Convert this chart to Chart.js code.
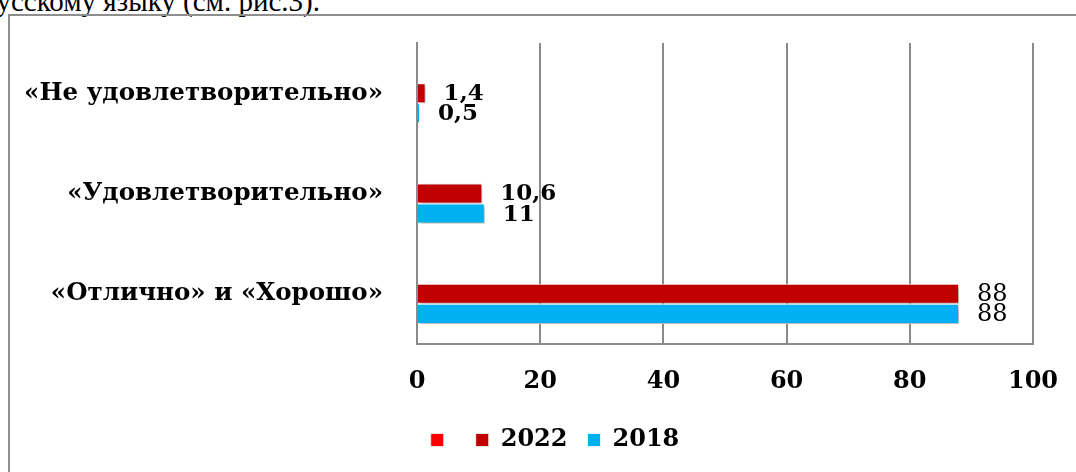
<!DOCTYPE html>
<html><head><meta charset="utf-8">
<script src="https://cdn.jsdelivr.net/npm/chart.js@4"></script>
<style>
html,body{margin:0;padding:0;background:#fff;width:1076px;height:472px;overflow:hidden;position:relative}
#pagetext{position:absolute;right:756px;top:-13px;font:29px/29px "Liberation Serif",serif;white-space:nowrap;color:#000}
#frame{position:absolute;left:8px;top:14px;width:1100px;height:500px;border:2px solid #8e8e8e}
canvas{position:absolute;left:0;top:0}
</style></head><body>
<div id="pagetext">по русскому языку (см. рис.3).</div>
<div id="frame"></div>
<canvas id="c" width="1076" height="472"></canvas>
<script>
const categories = ['«Не удовлетворительно»', '«Удовлетворительно»', '«Отлично» и «Хорошо»'];
const seriesLabels = ['', '2022', '2018'];
const seriesBlank = [null, null, null];
const series2022 = [1.4, 10.6, 88];
const series2018 = [0.5, 11, 88];
const xTicks = [0, 20, 40, 60, 80, 100];

const SERIF = '"DejaVu Serif", serif';

const shadowPlugin = {
  id: 'barShadow',
  beforeDatasetsDraw(chart) {
    const ctx = chart.ctx;
    ctx.save();
    ctx.shadowColor = 'rgba(0,0,0,0.35)';
    ctx.shadowBlur = 4;
    ctx.shadowOffsetX = 2;
    ctx.shadowOffsetY = 2;
  },
  afterDatasetsDraw(chart) {
    chart.ctx.restore();
  }
};

const valueLabels = {
  id: 'valueLabels',
  afterDatasetsDraw(chart) {
    const ctx = chart.ctx;
    chart.data.datasets.forEach((ds, di) => {
      const meta = chart.getDatasetMeta(di);
      if (meta.hidden) return;
      meta.data.forEach((el, i) => {
        const v = ds.data[i];
        if (v == null) return;
        ctx.save();
        ctx.font = (i === 2 ? 'normal 24px ' : 'bold 23px ') + SERIF;
        ctx.fillStyle = '#000';
        ctx.textAlign = 'left';
        ctx.textBaseline = 'middle';
        ctx.fillText(String(v).replace('.', ','), el.x + 18, el.y + 1);
        ctx.restore();
      });
    });
  }
};

// centre the legend row under the plot like the original (offset from the frame)
const legendShift = {
  id: 'legendShift',
  afterLayout(chart) {
    const lg = chart.legend;
    if (!lg) return;
    lg.left = 77;
    lg.width = lg.right - lg.left;
  }
};

const barBorder = { top: 1, bottom: 1, left: 0, right: 1 };

new Chart(document.getElementById('c'), {
  type: 'bar',
  data: {
    labels: categories,
    datasets: [
      { label: seriesLabels[0], data: seriesBlank, backgroundColor: '#FF0000', borderColor: '#ffffff', borderWidth: barBorder, borderSkipped: false },
      { label: seriesLabels[1], data: series2022, backgroundColor: '#C00000', borderColor: '#ffffff', borderWidth: barBorder, borderSkipped: false },
      { label: seriesLabels[2], data: series2018, backgroundColor: '#00B0F0', borderColor: '#ffffff', borderWidth: barBorder, borderSkipped: false }
    ]
  },
  options: {
    indexAxis: 'y',
    responsive: false,
    animation: false,
    devicePixelRatio: 1,
    categoryPercentage: 0.6,
    barPercentage: 1.0,
    layout: { padding: { left: 10, right: 43, top: 43, bottom: 10 } },
    scales: {
      x: {
        min: 0, max: 100,
        afterBuildTicks: s => { s.ticks = xTicks.map(v => ({ value: v })); },
        afterFit: s => { s.height = 64; },
        grid: { color: '#8a8a8a', lineWidth: 2, drawTicks: false },
        border: { display: true, color: '#8a8a8a', width: 2 },
        ticks: { padding: 14, color: '#000', font: { family: SERIF, weight: 'bold', size: 24, lineHeight: 2 } }
      },
      y: {
        afterFit: s => { s.width = 407; },
        grid: { display: false, drawTicks: true, tickLength: 30 },
        border: { display: true, color: '#8a8a8a', width: 2 },
        ticks: { padding: 4, color: '#000', font: { family: SERIF, weight: 'bold', size: 24.5 } }
      }
    },
    plugins: {
      legend: {
        position: 'bottom',
        labels: { boxWidth: 13, boxHeight: 13, padding: 20, color: '#000', font: { family: SERIF, weight: 'bold', size: 24 } }
      },
      tooltip: { enabled: false }
    }
  },
  plugins: [shadowPlugin, valueLabels, legendShift]
});
</script>
</body></html>
